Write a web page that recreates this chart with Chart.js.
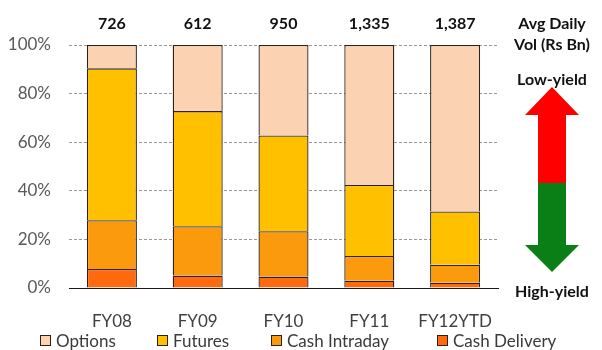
<!DOCTYPE html>
<html>
<head>
<meta charset="utf-8">
<script src="https://cdn.jsdelivr.net/npm/chart.js@4"></script>
<style>
  html, body { margin: 0; padding: 0; background: #fff; }
  #wrap { width: 602px; height: 350px; position: relative; }
</style>
</head>
<body>
<div id="wrap"><canvas id="c" width="602" height="350"></canvas></div>
<script>
// Share of turnover by segment (% of total), FY08 to FY12YTD
const categories = ['FY08', 'FY09', 'FY10', 'FY11', 'FY12YTD'];
const cashDelivery = [7.8, 5.1, 4.7, 3.0, 2.2];
const cashIntraday = [20.1, 20.3, 18.7, 10.2, 7.4];
const futures = [62.5, 47.4, 39.4, 29.2, 21.9];
const options = [9.6, 27.2, 37.2, 57.6, 68.5];
// Average daily volume (Rs Bn)
const avgDailyVol = [726, 612, 950, 1335, 1387];
const yTicks = [0, 20, 40, 60, 80, 100];

const FONT = 'Lato, "Open Sans", sans-serif';
const EDGE = '#2e2118';

// Volume labels, side captions, yield arrow and the legend row
const overlay = {
  id: 'overlay',
  afterDraw(chart) {
    const ctx = chart.ctx;
    const x = chart.scales.x;
    ctx.save();
    ctx.fillStyle = '#111';
    ctx.font = 'bold 16px ' + FONT;
    ctx.textAlign = 'center';
    ctx.textBaseline = 'middle';
    avgDailyVol.forEach((v, i) => {
      ctx.fillText(v.toLocaleString('en-US'), x.getPixelForValue(i), 24);
    });
    ctx.fillText('Avg Daily', 552, 24);
    ctx.fillText('Vol (Rs Bn)', 552, 45);
    ctx.fillText('Low-yield', 552, 80);
    ctx.fillText('High-yield', 552, 292);

    // yield arrow: red upper half, green lower half
    const cx = 552, hw = 27, sw = 14;
    ctx.fillStyle = '#ff0000';
    ctx.beginPath();
    ctx.moveTo(cx, 87);
    ctx.lineTo(cx + hw, 115);
    ctx.lineTo(cx + sw, 115);
    ctx.lineTo(cx + sw, 183);
    ctx.lineTo(cx - sw, 183);
    ctx.lineTo(cx - sw, 115);
    ctx.lineTo(cx - hw, 115);
    ctx.closePath();
    ctx.fill();
    ctx.fillStyle = '#0a7f16';
    ctx.beginPath();
    ctx.moveTo(cx - sw, 183);
    ctx.lineTo(cx + sw, 183);
    ctx.lineTo(cx + sw, 245);
    ctx.lineTo(cx + hw, 245);
    ctx.lineTo(cx, 272);
    ctx.lineTo(cx - hw, 245);
    ctx.lineTo(cx - sw, 245);
    ctx.closePath();
    ctx.fill();

    // legend, top segment first
    const items = chart.data.datasets.slice().reverse();
    const boxX = [40, 157, 271, 437];
    const ly = 341;
    ctx.font = '17px ' + FONT;
    ctx.textAlign = 'left';
    items.forEach((d, i) => {
      ctx.fillStyle = d.backgroundColor;
      ctx.fillRect(boxX[i] + 0.5, ly - 5.5, 10, 10);
      ctx.strokeStyle = EDGE;
      ctx.lineWidth = 1;
      ctx.strokeRect(boxX[i] + 0.5, ly - 5.5, 10, 10);
      ctx.fillStyle = '#3a3a3a';
      ctx.fillText(d.label, boxX[i] + 16, ly + 1);
    });
    ctx.restore();
  }
};

function ds(label, data, color) {
  return {
    label, data,
    backgroundColor: color,
    borderColor: EDGE,
    borderWidth: 1.3,
    borderSkipped: 'bottom'
  };
}

new Chart(document.getElementById('c'), {
  type: 'bar',
  data: {
    labels: categories,
    datasets: [
      ds('Cash Delivery', cashDelivery, '#ff6a0e'),
      ds('Cash Intraday', cashIntraday, '#fb9a0c'),
      ds('Futures', futures, '#ffc000'),
      ds('Options', options, '#fbd3b3')
    ]
  },
  options: {
    responsive: false,
    animation: false,
    layout: { padding: { top: 45, right: 104, left: 0, bottom: 0 } },
    datasets: { bar: { categoryPercentage: 1, barPercentage: 0.583 } },
    plugins: {
      legend: { display: false },
      tooltip: { enabled: false }
    },
    scales: {
      x: {
        stacked: true,
        grid: { display: false },
        border: { display: true, color: '#1a1a1a', width: 1 },
        ticks: { color: '#404040', padding: 15, font: { family: FONT, size: 17 } },
        afterFit(s) { s.height = 62; }
      },
      y: {
        stacked: true,
        min: 0, max: 100,
        afterBuildTicks(s) { s.ticks = yTicks.map(v => ({ value: v })); },
        grid: { color: '#9a9a9a', lineWidth: 1, drawTicks: false },
        border: { display: false, dash: [3, 2] },
        ticks: {
          color: '#595959', padding: 18,
          font: { family: FONT, size: 17 },
          callback: v => v + '%'
        },
        afterFit(s) { s.width = 69; }
      }
    }
  },
  plugins: [overlay]
});
</script>
</body>
</html>
